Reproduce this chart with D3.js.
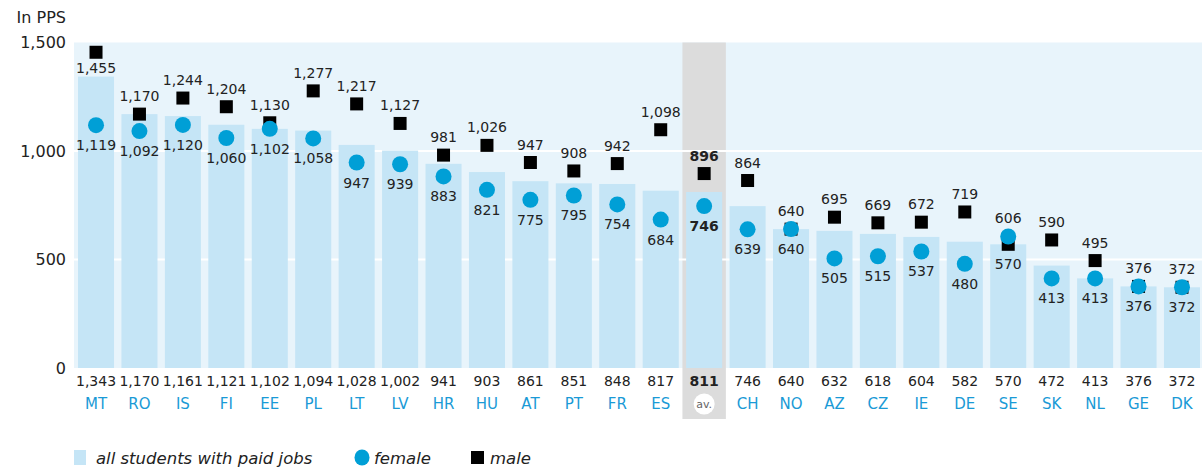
<!DOCTYPE html>
<html><head><meta charset="utf-8">
<script src="https://cdn.jsdelivr.net/npm/d3@7"></script>
<style>
html,body{margin:0;padding:0;background:#fff;}
text{font-family:"DejaVu Sans",sans-serif;}
</style></head>
<body><svg id="chart" width="1202" height="468"></svg>
<script>
const categories = ["MT","RO","IS","FI","EE","PL","LT","LV","HR","HU","AT","PT","FR","ES","av.","CH","NO","AZ","CZ","IE","DE","SE","SK","NL","GE","DK"];
const allValues = [1343,1170,1161,1121,1102,1094,1028,1002,941,903,861,851,848,817,811,746,640,632,618,604,582,570,472,413,376,372];
const femaleValues = [1119,1092,1120,1060,1102,1058,947,939,883,821,775,795,754,684,746,639,640,505,515,537,480,606,413,413,376,372];
const maleValues = [1455,1170,1244,1204,1130,1277,1217,1127,981,1026,947,908,942,1098,896,864,640,695,669,672,719,570,590,495,376,372];
const yTicks = [0,500,1000,1500];
const avgKey = "av.";

(function(){
const FONT = "DejaVu Sans, sans-serif";
const svg = d3.select("#chart");
const fmt = d3.format(",");
const pLeft = 74.3, pRight = 1203.7, pTop = 42.5, pBottom = 368;
const x = d3.scaleBand().domain(categories).range([pLeft, pRight]).paddingInner(0.17).paddingOuter(0.085);
const y = d3.scaleLinear().domain([0,1500]).range([pBottom, pTop]);
const step = x.step();

svg.append("rect").attr("x",74).attr("y",pTop).attr("width",1202-74).attr("height",pBottom-pTop).attr("fill","#e8f4fb");
svg.append("rect").attr("x",x(avgKey)+x.bandwidth()/2-step/2).attr("y",pTop).attr("width",step).attr("height",419-pTop).attr("fill","#dcdcdc");
svg.append("g").selectAll("line").data(yTicks.filter(d=>d>0 && d<1500)).join("line")
  .attr("x1",74).attr("x2",1202).attr("y1",d=>y(d)).attr("y2",d=>y(d))
  .attr("stroke","#fff").attr("stroke-width",2);

const yAxis = d3.axisLeft(y).tickValues(yTicks).tickFormat(fmt).tickSize(0).tickPadding(0);
const gy = svg.append("g").attr("transform","translate(66,0)").call(yAxis);
gy.select(".domain").remove();
gy.selectAll("text").attr("font-size",16).attr("fill","#222").attr("font-family",FONT).attr("dy","0.32em");
svg.append("text").attr("x",66).attr("y",23).attr("text-anchor","end").attr("font-size",16).attr("fill","#222").text("In PPS");

const data = categories.map((c,i)=>({c, all:allValues[i], f:femaleValues[i], m:maleValues[i]}));
const cx = d => x(d.c)+x.bandwidth()/2;

svg.append("g").selectAll("rect").data(data).join("rect")
  .attr("x",d=>x(d.c)).attr("width",x.bandwidth())
  .attr("y",d=>y(d.all)).attr("height",d=>pBottom-y(d.all)).attr("fill","#c5e5f6");

const sq = 13;
svg.append("g").selectAll("rect").data(data).join("rect")
  .attr("x",d=>cx(d)-sq/2).attr("y",d=>y(d.m)-sq/2).attr("width",sq).attr("height",sq).attr("fill","#000");
svg.append("g").selectAll("circle").data(data).join("circle")
  .attr("cx",cx).attr("cy",d=>y(d.f)).attr("r",8).attr("fill","#009fd6");

const labels = svg.append("g").attr("font-size",14).attr("fill","#222").attr("text-anchor","middle");
data.forEach(d=>{
  const bold = d.c===avgKey ? "bold" : "normal";
  const hiIsMale = d.m >= d.f;
  const hi = hiIsMale ? d.m : d.f, lo = hiIsMale ? d.f : d.m;
  let hiY = y(hi) - 13;
  if (hiY < pTop + 8) hiY = y(hi) + 21;
  labels.append("text").attr("x",cx(d)).attr("y",hiY).attr("font-weight",bold).text(fmt(hi));
  labels.append("text").attr("x",cx(d)).attr("y",y(lo)+25).attr("font-weight",bold).text(fmt(lo));
});

svg.append("g").selectAll("text").data(data).join("text")
  .attr("x",cx).attr("y",386).attr("text-anchor","middle").attr("font-size",14).attr("fill","#222")
  .attr("font-weight",d=>d.c===avgKey?"bold":"normal").text(d=>fmt(d.all));

const xAxis = d3.axisBottom(x).tickSize(0).tickPadding(0);
const gx = svg.append("g").attr("transform","translate(0,404)").call(xAxis);
gx.select(".domain").remove();
gx.selectAll(".tick").each(function(c){
  const t = d3.select(this);
  const txt = t.select("text").attr("font-family",FONT).attr("dy","0.35em").attr("y",0);
  if (c===avgKey){
    t.insert("circle","text").attr("cx",0).attr("cy",0).attr("r",10.5).attr("fill","#fff");
    txt.attr("font-size",11).attr("fill","#666");
  } else {
    txt.attr("font-size",15).attr("fill","#1a9ad6");
  }
});

const lg = svg.append("g").attr("font-size",16.5).attr("font-style","italic").attr("fill","#222");
lg.append("rect").attr("x",74).attr("y",450).attr("width",12).attr("height",15).attr("fill","#c5e5f6");
lg.append("text").attr("x",96).attr("y",464).text("all students with paid jobs");
lg.append("ellipse").attr("cx",362).attr("cy",457.5).attr("rx",7.5).attr("ry",8).attr("fill","#009fd6");
lg.append("text").attr("x",374).attr("y",464).text("female");
lg.append("rect").attr("x",471).attr("y",451).attr("width",13).attr("height",13).attr("fill","#000");
lg.append("text").attr("x",490).attr("y",464).text("male");
})();
</script></body></html>
